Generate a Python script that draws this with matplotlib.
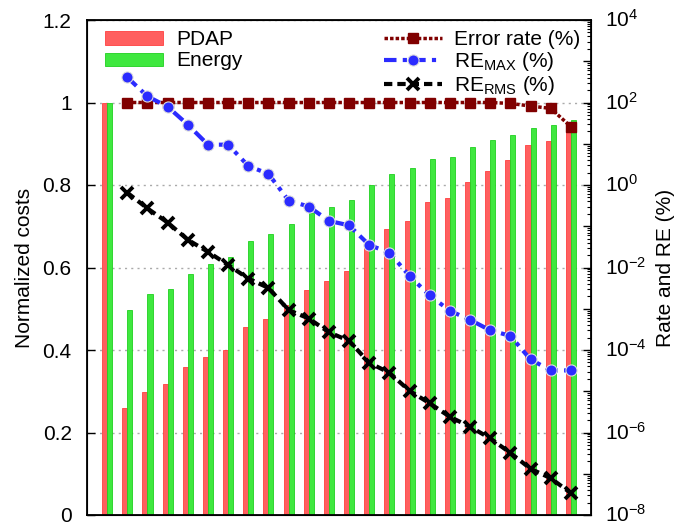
import numpy as np
import matplotlib
matplotlib.use("Agg")
import matplotlib.pyplot as plt
from matplotlib.ticker import FixedLocator, LogLocator, NullFormatter, NullLocator

plt.rcParams["font.family"] = ["Liberation Sans", "DejaVu Sans"]
plt.rcParams["mathtext.fontset"] = "custom"
plt.rcParams["mathtext.rm"] = "Liberation Sans"
plt.rcParams["mathtext.it"] = "Liberation Sans:italic"
plt.rcParams["font.size"] = 15

# normalized costs, one bar pair per configuration
pdap = [1.0, 0.259, 0.298, 0.318, 0.36, 0.384, 0.40, 0.456, 0.475, 0.51, 0.545, 0.567,
        0.592, 0.649, 0.693, 0.713, 0.758, 0.768, 0.807, 0.834, 0.861, 0.897, 0.907, 0.932]
energy = [1.0, 0.496, 0.536, 0.548, 0.584, 0.608, 0.625, 0.664, 0.681, 0.705, 0.733, 0.747,
          0.764, 0.80, 0.826, 0.841, 0.864, 0.868, 0.892, 0.909, 0.922, 0.938, 0.946, 0.958]

# rates (%) for configurations 2..24
error_rate = [100, 100, 100, 100, 100, 100, 100, 100, 100, 100, 100, 100,
              100, 100, 100, 100, 100, 100, 100, 95, 82, 72, 26]
re_max = [407, 141, 79, 29, 9.5, 9.5, 2.9, 1.86, 0.42, 0.30, 0.135, 0.105,
          0.035, 0.023, 6.2e-3, 2.1e-3, 8.9e-4, 5.4e-4, 3.0e-4, 2.2e-4, 5.9e-5, 3.2e-5, 3.2e-5]
re_rms = [0.65, 0.27, 0.123, 0.047, 0.024, 0.0115, 5.4e-3, 3.2e-3, 9.3e-4, 5.8e-4, 2.7e-4, 1.66e-4,
          4.9e-5, 2.8e-5, 1.02e-5, 5.1e-6, 2.4e-6, 1.38e-6, 7.2e-7, 3.2e-7, 1.32e-7, 7.8e-8, 3.4e-8]

x = np.arange(1, len(pdap) + 1)
xl = x[1:]
w = 0.25

fig = plt.figure(figsize=(6.92, 5.26), dpi=100)
ax = fig.add_axes([87 / 692, 1 - 515 / 526, 504 / 692, 495 / 526])

ax.bar(x - w / 2, pdap, width=w, color="#ff5f5f", edgecolor="#ff4040", linewidth=0.6,
       label="PDAP", zorder=2)
ax.bar(x + w / 2, energy, width=w, color="#3fe83f", edgecolor="#20d020", linewidth=0.6,
       label="Energy", zorder=2)

ax.set_xlim(0, 25)
ax.set_ylim(0, 1.2)
ax.xaxis.set_major_locator(NullLocator())
ax.set_yticks([0, 0.2, 0.4, 0.6, 0.8, 1.0, 1.2])
ax.set_yticklabels(["0", "0.2", "0.4", "0.6", "0.8", "1", "1.2"])
ax.tick_params(axis="y", direction="in", length=6, width=1, pad=11)
ax.grid(True, axis="y", color="#aaaaaa", linestyle=(0, (1.5, 3)), linewidth=1, zorder=0)
ax.set_ylabel("Normalized costs", labelpad=6)
for s in ax.spines.values():
    s.set_linewidth(1.3)

ax2 = ax.twinx()
ax2.set_yscale("log")
ax2.set_ylim(1e-8, 1e4)
ax2.yaxis.set_major_locator(FixedLocator([10.0 ** k for k in range(-8, 5)]))
ax2.yaxis.set_major_formatter(NullFormatter())
ax2.yaxis.set_minor_locator(LogLocator(base=10, subs=np.arange(2, 10), numticks=30))
ax2.yaxis.set_minor_formatter(NullFormatter())
ax2.tick_params(axis="y", which="major", direction="in", length=6, width=1, pad=10)
ax2.tick_params(axis="y", which="minor", direction="in", length=3, width=0.8)
for k in range(-8, 5, 2):
    ax2.text(1.0 + 14 / 504, 10.0 ** k, r"$10^{%d}$" % k, transform=ax2.get_yaxis_transform(),
             ha="left", va="center", fontsize=15)
ax2.set_ylabel("Rate and RE (%)", labelpad=37)

ax2.plot(xl, error_rate, color="#800000", linestyle=(0, (1, 0.6)), linewidth=2.5,
         marker="s", markersize=7.5, label="Error rate (%)", zorder=3)
ax2.plot(xl, re_max, color="#2b2bff", linestyle=(0, (3, 1.5, 1, 1.5)), linewidth=3,
         marker="o", markersize=8, markeredgecolor="#dddddd", markeredgewidth=0.8,
         label=r"RE$_{\mathrm{MAX}}$ (%)", zorder=3)
ax2.plot(xl, re_rms, color="black", linestyle=(0, (2, 1.2)), linewidth=3,
         marker="x", markersize=8, markeredgewidth=2.8, label=r"RE$_{\mathrm{RMS}}$ (%)", zorder=3)

leg1 = ax.legend(loc="upper left", bbox_to_anchor=(0.015, 1.0), frameon=False,
                 handlelength=2.8, handleheight=0.6, handletextpad=0.6, labelspacing=0.1,
                 borderaxespad=0.3, borderpad=0.2)
leg2 = ax2.legend(loc="upper right", frameon=False, handlelength=2.8, handletextpad=0.6,
                  labelspacing=0.05, borderaxespad=0.3, borderpad=0.2)

fig.savefig("out.png", dpi=100)
